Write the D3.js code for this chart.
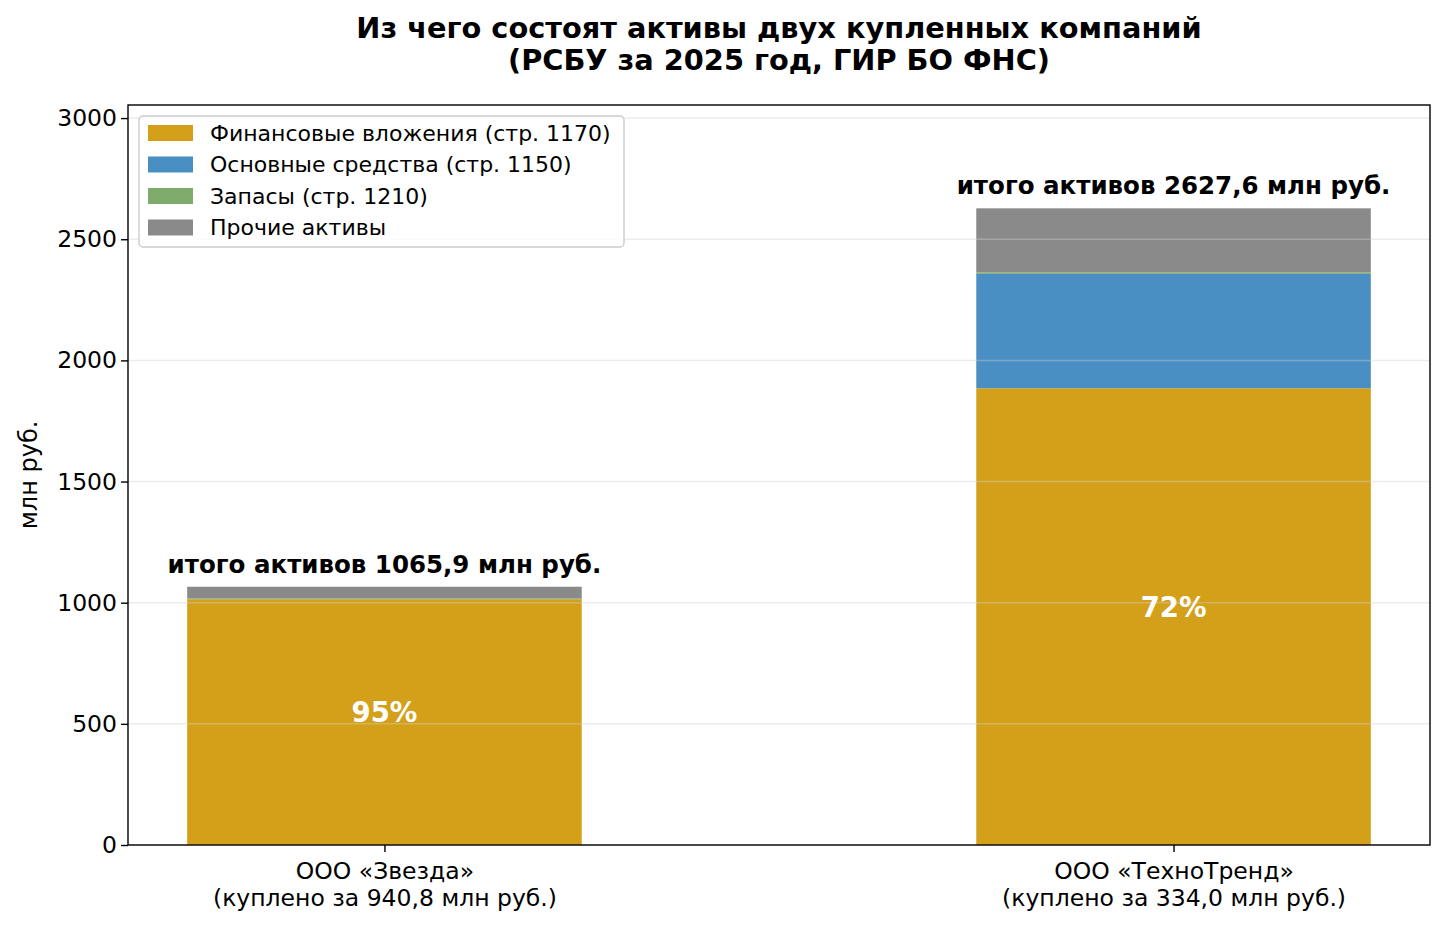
<!DOCTYPE html>
<html>
<head>
<meta charset="utf-8">
<script src="https://cdn.jsdelivr.net/npm/d3@7"></script>
<style>
  body { margin: 0; background: #fff; }
  text { font-family: "DejaVu Sans", sans-serif; }
</style>
</head>
<body>
<div id="chart"></div>
<script>
// data (млн руб.)
const companies = ["ООО «Звезда»", "ООО «ТехноТренд»"];
const boughtFor = ["940,8", "334,0"];
const totals = [1065.9, 2627.6];
const finInvest = [1014.2, 1885.0];   // стр. 1170
const fixedAssets = [0.3, 472.0];     // стр. 1150
const stocks = [3.0, 6.0];            // стр. 1210
const otherAssets = [48.4, 264.6];
const seriesNames = ["Финансовые вложения (стр. 1170)", "Основные средства (стр. 1150)", "Запасы (стр. 1210)", "Прочие активы"];
const seriesColors = ["#d4a01a", "#4a8fc3", "#7eaa6b", "#8a8a8a"];
const yTicks = [0, 500, 1000, 1500, 2000, 2500, 3000];

const W = 1446, H = 926;
const margin = {top: 105, right: 16, bottom: 81, left: 128};
const width = W - margin.left - margin.right;
const height = H - margin.top - margin.bottom;

const svg = d3.select("#chart").append("svg")
  .attr("width", W).attr("height", H);

const g = svg.append("g")
  .attr("transform", `translate(${margin.left},${margin.top})`);

// bars sit at 0 and 1, width 0.5
const x = d3.scaleLinear().domain([-0.325, 1.325]).range([0, width]);
const y = d3.scaleLinear().domain([0, 3054]).range([height, 0]);
const barW = x(0.5) - x(0);

// stacked bars
const rows = companies.map((c, i) => ({
  i, vals: [finInvest[i], fixedAssets[i], stocks[i], otherAssets[i]]
}));
const segs = [];
rows.forEach(r => {
  let base = 0;
  r.vals.forEach((v, k) => {
    segs.push({i: r.i, k, y0: base, y1: base + v});
    base += v;
  });
});

g.append("g").selectAll("rect").data(segs).join("rect")
  .attr("x", d => x(d.i) - barW / 2)
  .attr("width", barW)
  .attr("y", d => y(d.y1))
  .attr("height", d => y(d.y0) - y(d.y1))
  .attr("fill", d => seriesColors[d.k]);

// grid (drawn over the bars, faint)
g.append("g").selectAll("line").data(yTicks).join("line")
  .attr("x1", 0).attr("x2", width)
  .attr("y1", d => y(d)).attr("y2", d => y(d))
  .attr("stroke", "#cfcfcf").attr("stroke-opacity", 0.4).attr("stroke-width", 1.5);

// percent labels inside the gold part
g.append("g").selectAll("text").data(rows).join("text")
  .attr("x", d => x(d.i))
  .attr("y", d => y(finInvest[d.i] / 2))
  .attr("text-anchor", "middle")
  .attr("fill", "#fff")
  .attr("font-weight", "bold")
  .attr("font-size", 27.5)
  .text(d => Math.round(finInvest[d.i] / totals[d.i] * 100) + "%");

// totals above the bars
g.append("g").selectAll("text").data(rows).join("text")
  .attr("x", d => x(d.i))
  .attr("y", d => y(totals[d.i]) - 14)
  .attr("text-anchor", "middle")
  .attr("font-weight", "bold")
  .attr("font-size", 24.5)
  .text(d => "итого активов " + String(totals[d.i]).replace(".", ",") + " млн руб.");

// y axis
const yAxis = g.append("g")
  .call(d3.axisLeft(y).tickValues(yTicks).tickSize(7).tickPadding(4).tickFormat(d3.format("d")));
yAxis.selectAll("text").attr("font-size", 23.5).attr("fill", "#000");
yAxis.select(".domain").remove();
yAxis.selectAll("line").attr("stroke", "#000").attr("stroke-width", 1.4);

// x axis
const xAxis = g.append("g")
  .attr("transform", `translate(0,${height})`)
  .call(d3.axisBottom(x).tickValues([0, 1]).tickSize(7).tickFormat(""));
xAxis.select(".domain").remove();
xAxis.selectAll("line").attr("stroke", "#000").attr("stroke-width", 1.4);
xAxis.selectAll(".tick").append("text")
  .attr("fill", "#000").attr("font-size", 23.5).attr("text-anchor", "middle")
  .selectAll("tspan").data(d => [companies[d], "(куплено за " + boughtFor[d] + " млн руб.)"])
  .join("tspan")
  .attr("x", 0)
  .attr("y", (d, j) => 34 + j * 26.5)
  .text(d => d);

// frame
g.append("rect")
  .attr("width", width).attr("height", height)
  .attr("fill", "none").attr("stroke", "#000").attr("stroke-width", 1.4);

// y label
svg.append("text")
  .attr("transform", `translate(37,${margin.top + height / 2}) rotate(-90)`)
  .attr("text-anchor", "middle")
  .attr("font-size", 24)
  .text("млн руб.");

// title
const title = svg.append("text")
  .attr("text-anchor", "middle")
  .attr("font-weight", "bold")
  .attr("font-size", 28.8);
title.append("tspan").attr("x", margin.left + width / 2).attr("y", 38)
  .text("Из чего состоят активы двух купленных компаний");
title.append("tspan").attr("x", margin.left + width / 2).attr("y", 70)
  .text("(РСБУ за 2025 год, ГИР БО ФНС)");

// legend
const legend = g.append("g").attr("transform", "translate(11,11)");
legend.append("rect")
  .attr("width", 485).attr("height", 131).attr("rx", 4)
  .attr("fill", "#fff").attr("fill-opacity", 0.8)
  .attr("stroke", "#cccccc").attr("stroke-width", 1.4);
const items = legend.selectAll("g.item").data(seriesNames).join("g")
  .attr("class", "item")
  .attr("transform", (d, k) => `translate(9,${9 + k * 31.5})`);
items.append("rect")
  .attr("width", 45).attr("height", 16)
  .attr("fill", (d, k) => seriesColors[k]);
items.append("text")
  .attr("x", 62).attr("y", 8).attr("dy", "0.35em")
  .attr("font-size", 22)
  .text(d => d);
</script>
</body>
</html>
